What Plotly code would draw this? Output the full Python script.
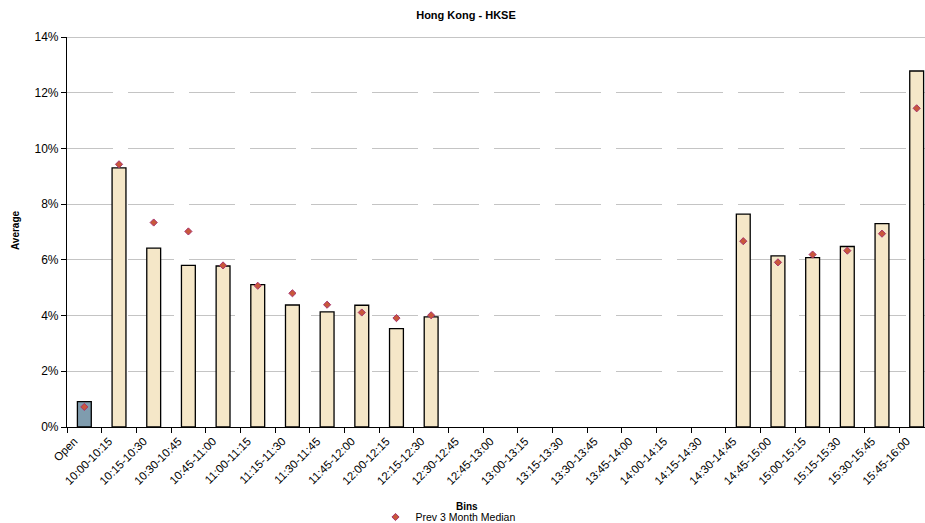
import plotly.graph_objects as go

categories = ["Open", "10:00-10:15", "10:15-10:30", "10:30-10:45", "10:45-11:00",
              "11:00-11:15", "11:15-11:30", "11:30-11:45", "11:45-12:00", "12:00-12:15",
              "12:15-12:30", "12:30-12:45", "12:45-13:00", "13:00-13:15", "13:15-13:30",
              "13:30-13:45", "13:45-14:00", "14:00-14:15", "14:15-14:30", "14:30-14:45",
              "14:45-15:00", "15:00-15:15", "15:15-15:30", "15:30-15:45", "15:45-16:00"]

average = [0.0091, 0.0930, 0.0642, 0.0580, 0.0578, 0.0511, 0.0438, 0.0413, 0.0437, 0.0353,
           0.0395, None, None, None, None, None, None, None, None, 0.0764,
           0.0614, 0.0608, 0.0648, 0.0730, 0.1278]

median = [0.0072, 0.0943, 0.0734, 0.0702, 0.0580, 0.0507, 0.0480, 0.0439, 0.0411, 0.0391,
          0.0401, None, None, None, None, None, None, None, None, 0.0667,
          0.0591, 0.0619, 0.0633, 0.0694, 0.1144]

y_ticks = [0, 0.02, 0.04, 0.06, 0.08, 0.10, 0.12, 0.14]
y_labels = ["0%", "2%", "4%", "6%", "8%", "10%", "12%", "14%"]

FONT = "Arial, Liberation Sans, sans-serif"
bar_colors = ["#7F9CAE"] + ["#F5E7C8"] * (len(categories) - 1)

W, H = 925, 523
L, T, B = 67, 37, 96
PW, PH = W - L, H - T - B

fig = go.Figure()
fig.add_trace(go.Bar(
    x=categories, y=average, width=0.4,
    marker=dict(color=bar_colors, line=dict(color="#000000", width=1.3)),
    showlegend=False, name="Average",
))
fig.add_trace(go.Scatter(
    x=categories, y=median, mode="markers", name="Prev 3 Month Median",
    marker=dict(symbol="diamond", size=5.5, color="#C8583A",
                line=dict(color="#A8326E", width=1)),
))

fig.update_layout(
    width=W, height=H,
    margin=dict(l=L, r=0, t=T, b=B, autoexpand=False),
    paper_bgcolor="white", plot_bgcolor="white",
    font=dict(family=FONT, size=10, color="#000000"),
    title=dict(text="<b>Hong Kong - HKSE</b>", x=466 / W, xanchor="center",
               xref="container", yref="container",
               y=1 - 15 / H, yanchor="middle", font=dict(size=11, family=FONT)),
    legend=dict(orientation="h", xref="container", yref="container",
                x=448 / W, xanchor="center", y=1 - 517 / H, yanchor="middle",
                font=dict(size=10.5, family=FONT), bgcolor="rgba(0,0,0,0)",
                itemwidth=30),
    shapes=[dict(type="line", xref="paper", yref="y", x0=0, x1=1, y0=0.14, y1=0.14,
                 line=dict(color="#8C8C8C", width=1))],
    annotations=[
        dict(text="<b>Bins</b>", xref="paper", yref="paper", x=(467 - L) / PW,
             y=(H - B - 506) / PH, showarrow=False, xanchor="center", yanchor="middle",
             font=dict(size=10, family=FONT)),
        dict(text="<b>Average</b>", xref="paper", yref="paper", x=(15 - L) / PW,
             y=(H - B - 230) / PH, showarrow=False, textangle=-90, xanchor="center",
             yanchor="middle", font=dict(size=10, family=FONT)),
    ],
)

fig.update_xaxes(
    type="category", range=[-0.5, 24.24], automargin=False,
    tickangle=-45, ticks="outside", tickson="boundaries", ticklen=5,
    ticklabelshift=-10, ticklabelstandoff=2,
    tickcolor="#000000", showline=True, linecolor="#000000", linewidth=1.2,
    showgrid=False, tickfont=dict(size=11.5, family=FONT, color="#000000"),
)
fig.update_yaxes(
    range=[0, 0.14], tickvals=y_ticks, ticktext=y_labels, automargin=False,
    ticks="outside", ticklen=5, tickcolor="#000000",
    showline=True, linecolor="#000000", linewidth=1.2,
    showgrid=True, gridcolor="#C4C4C4", gridwidth=1, griddash="46px,15px",
    zeroline=False, tickfont=dict(size=12, family=FONT, color="#000000"),
)

fig.write_html(
    "out.html",
    config={"displayModeBar": False},
    post_script="document.body.style.margin='0';document.body.style.overflow='hidden';",
)
